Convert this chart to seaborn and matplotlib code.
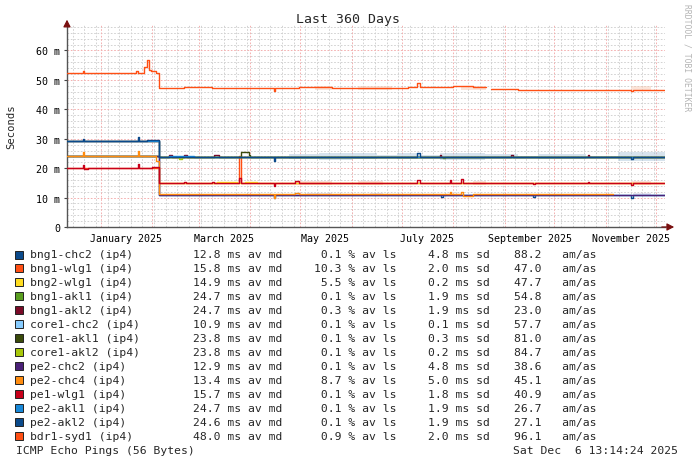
import numpy as np
import pandas as pd
import seaborn as sns
import matplotlib.pyplot as plt
import matplotlib.dates as mdates
from matplotlib.patches import Rectangle
from matplotlib.ticker import FixedLocator, MultipleLocator

# time window (local time of the graph)
t_start = "2024-12-11 13:14"
t_end = "2025-12-06 13:14"

names = ["bng1-chc2 (ip4)", "bng1-wlg1 (ip4)", "bng2-wlg1 (ip4)", "bng1-akl1 (ip4)",
         "bng1-akl2 (ip4)", "core1-chc2 (ip4)", "core1-akl1 (ip4)", "core1-akl2 (ip4)",
         "pe2-chc2 (ip4)", "pe2-chc4 (ip4)", "pe1-wlg1 (ip4)", "pe2-akl1 (ip4)",
         "pe2-akl2 (ip4)", "bdr1-syd1 (ip4)"]
colors = ["#0b4a8b", "#ff4f14", "#ffdd20", "#5a9e20", "#7a0a28", "#88ccff", "#3a4a0a",
          "#a8c80a", "#4a2078", "#ff8c10", "#c8001a", "#1888d8", "#0b4a8b", "#ff4f14"]
med_ms = [12.8, 15.8, 14.9, 24.7, 24.7, 10.9, 23.8, 23.8, 12.9, 13.4, 15.7, 24.7, 24.6, 48.0]
loss_pct = [0.1, 10.3, 5.5, 0.1, 0.3, 0.1, 0.1, 0.1, 0.1, 8.7, 0.1, 0.1, 0.1, 0.9]
sd_ms = [4.8, 2.0, 0.2, 1.9, 1.9, 0.1, 0.3, 0.2, 4.8, 5.0, 1.8, 1.9, 1.9, 2.0]
am_as = [88.2, 47.0, 47.7, 54.8, 23.0, 57.7, 81.0, 84.7, 38.6, 45.1, 40.9, 26.7, 27.1, 96.1]

# median rtt step series (ms), nan = no data from that date
bng1_chc2_t = ["2024-12-11 13:14", "2025-02-05", "2025-04-15", "2025-04-16", "2025-07-25", "2025-07-26",
               "2025-09-18", "2025-09-19", "2025-11-16", "2025-11-17", t_end]
bng1_chc2_v = [24.0, 11.0, 9.8, 11.0, 10.3, 11.0, 10.3, 11.0, 9.8, 11.0, 11.0]

bng1_wlg1_t = ["2024-12-11 13:14", "2025-02-05", "2025-03-25", "2025-03-26 08:00", t_end]
bng1_wlg1_v = [20.0, 15.0, 24.3, 15.0, 15.0]

bng2_wlg1_t = ["2025-02-05", "2025-03-12", "2025-03-24", "2025-03-29", "2025-04-05", t_end]
bng2_wlg1_v = [15.0, 15.3, 15.0, 15.3, 15.0, 15.0]

bng1_akl1_t = ["2024-12-11 13:14", "2025-02-05", "2025-07-26", "2025-07-27", t_end]
bng1_akl1_v = [29.1, 23.9, 23.3, 23.9, 23.9]

bng1_akl2_t = ["2024-12-11 13:14", "2025-02-05", "2025-02-11", "2025-02-13", "2025-02-20", "2025-02-22",
               "2025-03-10", "2025-03-13", "2025-07-24", "2025-07-25", "2025-09-05", "2025-09-06",
               "2025-10-21", "2025-10-22", t_end]
bng1_akl2_v = [29.1, 23.9, 24.5, 23.9, 24.5, 23.9, 24.5, 23.9, 24.4, 23.9, 24.4, 23.9, 24.4, 23.9, 23.9]

core1_chc2_t = ["2025-02-05", t_end]
core1_chc2_v = [10.9, 10.9]

core1_akl1_t = ["2024-12-11 13:14", "2025-02-05", "2025-03-26", "2025-03-31", "2025-04-01", t_end]
core1_akl1_v = [24.0, 23.9, 25.4, 24.5, 23.9, 23.9]

core1_akl2_t = ["2024-12-11 13:14", "2025-02-05", "2025-02-17", "2025-02-19", t_end]
core1_akl2_v = [24.0, 23.9, 23.2, 23.9, 23.9]

pe2_chc2_t = ["2024-12-11 13:14", "2025-02-05", t_end]
pe2_chc2_v = [24.1, 11.0, 11.0]

pe2_chc4_t = ["2024-12-11 13:14", "2024-12-21", "2024-12-22", "2025-01-23", "2025-01-24", "2025-02-03",
              "2025-02-05", "2025-04-15", "2025-04-16", "2025-04-28", "2025-04-30", "2025-07-30",
              "2025-07-31", "2025-08-06", "2025-08-07", "2025-08-13", "2025-11-05"]
pe2_chc4_v = [24.3, 25.4, 24.3, 25.8, 24.3, 22.6, 11.1, 9.7, 11.1, 11.6, 11.1, 11.8, 11.1, 11.8,
              10.6, 11.1, np.nan]

pe1_wlg1_t = ["2024-12-11 13:14", "2024-12-21", "2024-12-22", "2024-12-24", "2025-01-23", "2025-01-24",
              "2025-02-01", "2025-02-05", "2025-02-20", "2025-02-21", "2025-03-09", "2025-03-10",
              "2025-03-25", "2025-03-26", "2025-04-15", "2025-04-16", "2025-04-28", "2025-04-30",
              "2025-07-10", "2025-07-12", "2025-07-30", "2025-07-31", "2025-08-06", "2025-08-07",
              "2025-09-18", "2025-09-19", "2025-10-21", "2025-10-22", "2025-11-16", "2025-11-17", t_end]
pe1_wlg1_v = [20.0, 21.0, 19.7, 20.0, 21.3, 20.0, 20.3, 15.0, 15.3, 15.0, 15.3, 15.0, 16.8, 15.0,
              13.9, 15.0, 15.7, 15.0, 16.0, 15.0, 16.0, 15.0, 16.3, 15.0, 14.7, 15.0, 15.4, 15.0,
              14.4, 15.0, 15.0]

pe2_akl1_t = ["2024-12-11 13:14", "2025-02-05", "2025-02-11", "2025-02-26", t_end]
pe2_akl1_v = [29.1, 23.9, 24.3, 23.9, 23.9]

pe2_akl2_t = ["2024-12-11 13:14", "2024-12-21", "2024-12-22", "2025-01-23", "2025-01-24", "2025-01-29",
              "2025-02-05", "2025-04-15", "2025-04-16", "2025-07-10", "2025-07-12", "2025-11-16",
              "2025-11-17", t_end]
pe2_akl2_v = [29.1, 30.0, 29.1, 30.6, 29.1, 29.5, 23.9, 22.6, 23.9, 25.0, 23.9, 23.1, 23.9, 23.9]

bdr1_syd1_t = ["2024-12-11 13:14", "2024-12-21", "2024-12-22", "2024-12-29", "2025-01-11", "2025-01-22",
               "2025-01-23", "2025-01-27", "2025-01-29", "2025-01-30", "2025-01-31", "2025-02-03",
               "2025-02-05", "2025-02-20", "2025-03-09", "2025-04-15", "2025-04-16", "2025-04-30",
               "2025-05-20", "2025-07-05", "2025-07-10", "2025-07-12", "2025-08-01", "2025-08-13",
               "2025-08-21", "2025-08-24", "2025-09-09", "2025-11-16", "2025-11-17", t_end]
bdr1_syd1_v = [52.2, 53.0, 52.2, 52.4, 52.2, 53.0, 52.2, 54.3, 56.6, 53.2, 52.9, 52.3, 47.2, 47.5,
               47.3, 46.1, 47.3, 47.5, 47.2, 47.6, 48.8, 47.6, 47.8, 47.5, np.nan, 47.0, 46.7,
               46.3, 46.7, 46.7]

times = [bng1_chc2_t, bng1_wlg1_t, bng2_wlg1_t, bng1_akl1_t, bng1_akl2_t, core1_chc2_t, core1_akl1_t,
         core1_akl2_t, pe2_chc2_t, pe2_chc4_t, pe1_wlg1_t, pe2_akl1_t, pe2_akl2_t, bdr1_syd1_t]
values = [bng1_chc2_v, bng1_wlg1_v, bng2_wlg1_v, bng1_akl1_v, bng1_akl2_v, core1_chc2_v, core1_akl1_v,
          core1_akl2_v, pe2_chc2_v, pe2_chc4_v, pe1_wlg1_v, pe2_akl1_v, pe2_akl2_v, bdr1_syd1_v]

# smoke (ping spread, +/- ms) around the main levels
smoke_akl_t = ["2024-12-11 13:14", "2025-04-24", "2025-05-12", "2025-06-01", "2025-06-16", "2025-06-28",
               "2025-07-12", "2025-07-24", "2025-08-20", "2025-09-09", "2025-09-21", "2025-10-20",
               "2025-11-08", t_end]
smoke_akl_v = [0, 0.9, 1.3, 1.0, 0.5, 1.0, 0.4, 1.1, 0.7, 0.3, 0.8, 0.3, 1.5, 1.5]
smoke_wlg_t = ["2024-12-11 13:14", "2025-04-28", "2025-05-20", "2025-06-05", "2025-06-20", "2025-08-13",
               "2025-08-21", "2025-11-16", "2025-11-28", t_end]
smoke_wlg_v = [0, 0.8, 0, 0.8, 0, 0.8, 0, 0.8, 0, 0]
smoke_chc_t = ["2024-12-11 13:14", "2025-05-05", "2025-05-20", "2025-06-12", "2025-06-20", "2025-11-17",
               "2025-11-28", t_end]
smoke_chc_v = [0, 0.5, 0, 0.5, 0, 0.4, 0, 0]
smoke_syd_t = ["2024-12-11 13:14", "2025-05-10", "2025-05-20", "2025-06-05", "2025-06-25", "2025-08-06",
               "2025-08-21", "2025-11-16", "2025-11-28", t_end]
smoke_syd_v = [0, 0.7, 0, 0.6, 0, 0.6, 0, 0.7, 0, 0]

label_months = ["2025-01-16", "2025-03-16", "2025-05-16", "2025-07-16", "2025-09-16", "2025-11-16"]
label_text = ["January 2025", "March 2025", "May 2025", "July 2025", "September 2025", "November 2025"]

# build long table, splitting lines where data stops
rows = []
for name, ts, vs in zip(names, times, values):
    seg = 0
    last = None
    for t, v in zip(ts, vs):
        if np.isnan(v):
            rows.append((name, seg, pd.Timestamp(t), last))
            seg += 1
        else:
            rows.append((name, seg, pd.Timestamp(t), v))
            last = v
df = pd.DataFrame(rows, columns=["name", "seg", "t", "ms"])

sns.set_theme(style="white")
plt.rcParams['font.family'] = ['DejaVu Sans Mono']
plt.rcParams['lines.scale_dashes'] = False

W, H = 697, 464
fig = plt.figure(figsize=(W / 100, H / 100), dpi=100)
fig.patch.set_facecolor("white")
ax = fig.add_axes([67 / W, 1 - 228 / H, 598 / W, 203 / H])
ax.set_facecolor("white")

x0, x1 = pd.Timestamp(t_start), pd.Timestamp(t_end)
gray_grid = "#d2d2d2"
red_grid = "#f4b0b0"

# grid
for d in pd.date_range("2024-12-15", x1, freq="7D"):
    ax.axvline(d, color=gray_grid, lw=0.7, ls=(0, (1.2, 1.2)), zorder=0.5)
for d in pd.date_range("2025-01-01", x1, freq="MS"):
    ax.axvline(d, color=red_grid, lw=0.7, ls=(0, (1.2, 1.2)), zorder=0.6)

# smoke
for st, sv, center, col in [(smoke_akl_t, smoke_akl_v, 24.0, "#a8c2d8"),
                            (smoke_wlg_t, smoke_wlg_v, 15.0, "#f6bcb4"),
                            (smoke_chc_t, smoke_chc_v, 11.0, "#cbbde0"),
                            (smoke_syd_t, smoke_syd_v, 47.3, "#f8c4ac")]:
    tt = pd.to_datetime(st, format="mixed")
    sp = np.array(sv, dtype=float)
    ax.fill_between(tt, center - sp, center + sp, step="post", color=col, alpha=0.45, lw=0, zorder=1)

sns.lineplot(data=df, x="t", y="ms", hue="name", units="seg", estimator=None, hue_order=names,
             palette=colors, drawstyle="steps-post", linewidth=1.0, legend=False, ax=ax, zorder=3)

ax.set_xlim(x0, x1)
ax.set_ylim(0, 69)
ax.yaxis.set_major_locator(MultipleLocator(10))
ax.yaxis.set_minor_locator(MultipleLocator(2))
ax.set_yticks(range(0, 70, 10))
ax.set_yticklabels(["0"] + [f"{v} m" for v in range(10, 70, 10)])
ax.yaxis.grid(True, which="major", color=red_grid, lw=0.7, ls=(0, (1.2, 1.2)))
ax.yaxis.grid(True, which="minor", color=gray_grid, lw=0.7, ls=(0, (1.2, 1.2)))
ax.xaxis.grid(False)
ax.set_axisbelow(True)

ax.xaxis.set_major_locator(FixedLocator(mdates.date2num(pd.to_datetime(label_months))))
ax.set_xticklabels(label_text)
ax.tick_params(axis="x", which="both", length=0, pad=4, labelsize=7.2, colors="black")
ax.tick_params(axis="y", which="major", length=2, width=0.8, pad=3, labelsize=7.2, colors="#444",
               labelcolor="black", left=True)
ax.tick_params(axis="y", which="minor", length=0)
ax.set_xlabel("")
ax.set_ylabel("Seconds", fontsize=7.6, labelpad=14)

for s in ["top", "right"]:
    ax.spines[s].set_visible(False)
for s in ["left", "bottom"]:
    ax.spines[s].set_color("#555555")
    ax.spines[s].set_linewidth(1.0)

# axis arrows
ax.annotate("", xy=(0, 1.035), xytext=(0, 0.99), xycoords="axes fraction",
            arrowprops=dict(arrowstyle="-|>,head_length=0.35,head_width=0.18", color="#7a1010", lw=0.9))
ax.annotate("", xy=(1.02, 0), xytext=(0.99, 0), xycoords="axes fraction",
            arrowprops=dict(arrowstyle="-|>,head_length=0.35,head_width=0.18", color="#7a1010", lw=0.9))

def fx(px):
    return px / W

def fy(py):
    return 1 - py / H

fig.text(0.5, fy(19), "Last 360 Days", ha="center", va="center", fontsize=9.5)
fig.text(fx(687), fy(4), "RRDTOOL / TOBI OETIKER", rotation=270, ha="center", va="top",
         fontsize=5.8, color="#b4b4b4")

# legend block
fs = 8.2
for i, name in enumerate(names):
    y = 255 + 13.97 * i
    fig.add_artist(Rectangle((fx(15), fy(y + 4.5)), 8 / W, 8 / H, facecolor=colors[i],
                             edgecolor="#222222", lw=0.7, transform=fig.transFigure))
    fig.text(fx(30), fy(y), name, ha="left", va="center", fontsize=fs)
    fig.text(fx(193), fy(y), f"{med_ms[i]:.1f} ms av md", ha="left", va="center", fontsize=fs)
    fig.text(fx(314), fy(y), f"{loss_pct[i]:4.1f} % av ls", ha="left", va="center", fontsize=fs)
    fig.text(fx(428), fy(y), f"{sd_ms[i]:.1f} ms sd", ha="left", va="center", fontsize=fs)
    fig.text(fx(514), fy(y), f"{am_as[i]:.1f}   am/as", ha="left", va="center", fontsize=fs)

fig.text(fx(16), fy(451), "ICMP Echo Pings (56 Bytes)", ha="left", va="center", fontsize=fs)
fig.text(fx(513), fy(451), "Sat Dec  6 13:14:24 2025", ha="left", va="center", fontsize=fs)

fig.savefig("out.png", dpi=100, facecolor="white")
